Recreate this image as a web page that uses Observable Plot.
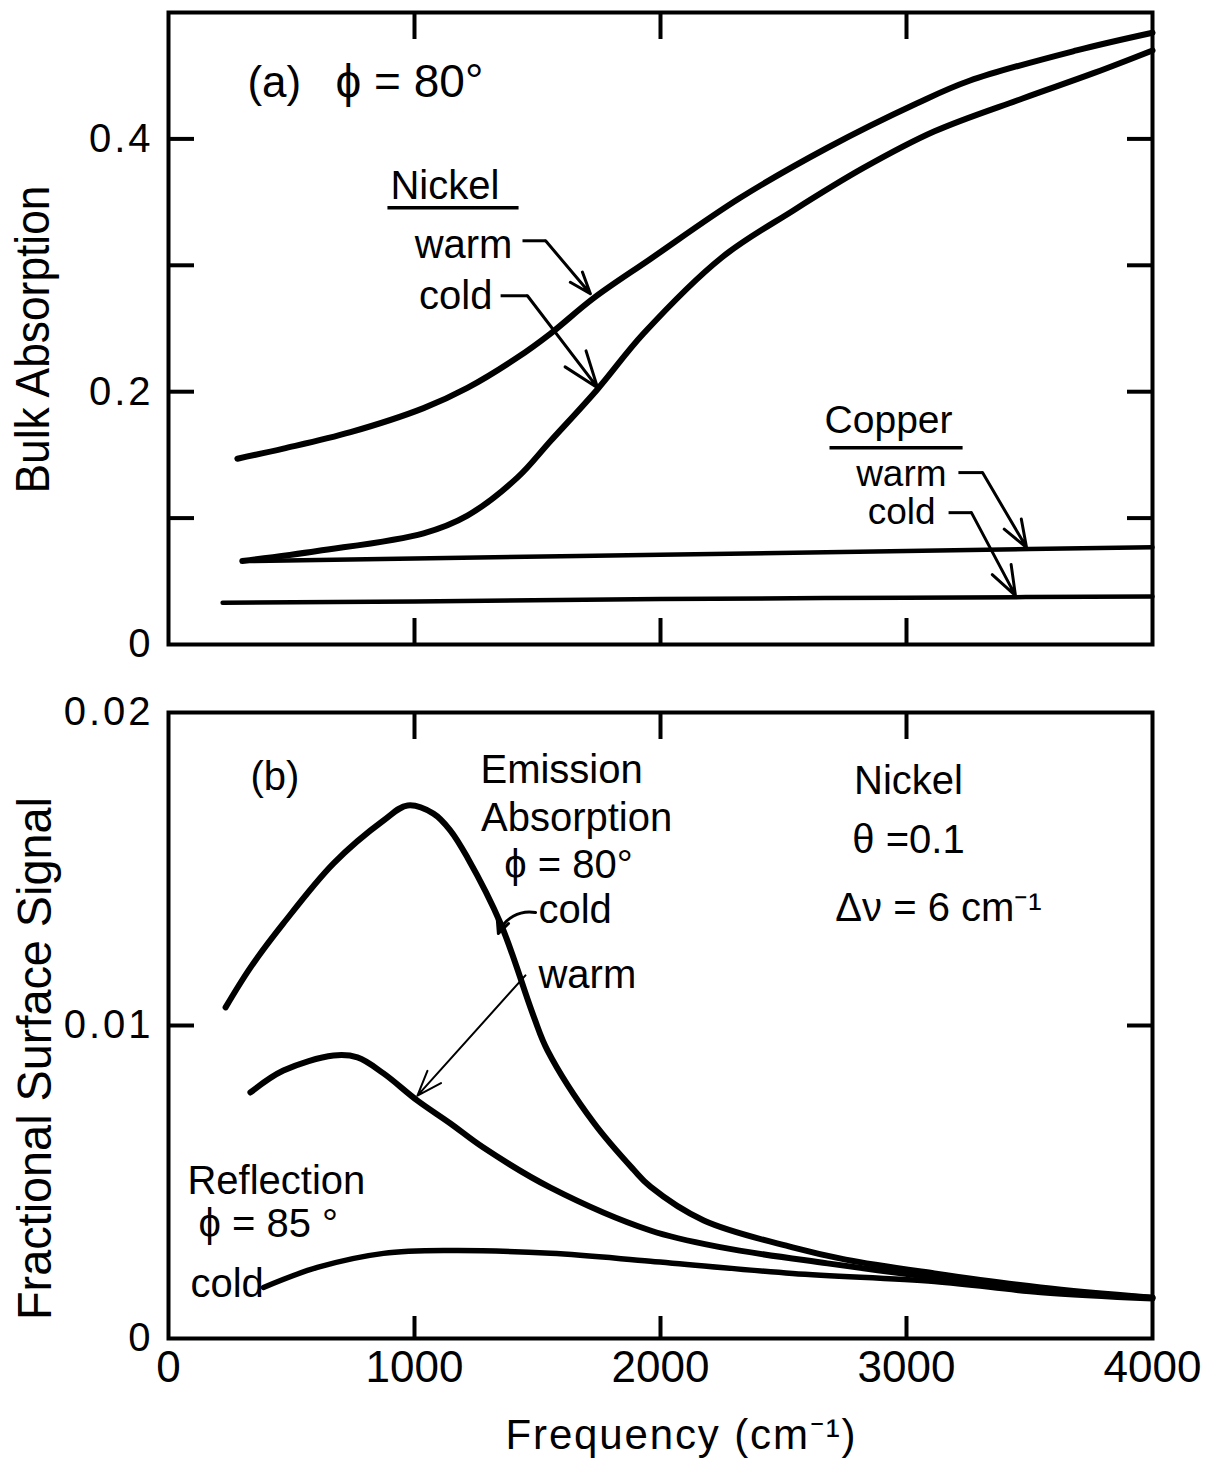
<!DOCTYPE html>
<html>
<head>
<meta charset="utf-8">
<script src="https://cdn.jsdelivr.net/npm/d3@7"></script>
<script src="https://cdn.jsdelivr.net/npm/@observablehq/plot@0.6"></script>
<style>
  body { margin: 0; background: #fff; }
  #chart svg { display: block; }
  g[aria-label="y-axis tick label"] text { letter-spacing: 3px; }
</style>
</head>
<body>
<div id="chart"></div>
<script>
// ---------- Data (frequency in cm^-1, value) ----------
const nickelWarm = [[280,0.147],[467,0.155],[740,0.168],[1037,0.187],[1215,0.203],[1418,0.227],[1553,0.246],[1728,0.274],[1959,0.305],[2321,0.353],[2679,0.393],[3041,0.428],[3256,0.446],[3691,0.470],[4000,0.484]];
const nickelCold = [[300,0.066],[605,0.074],[1037,0.088],[1215,0.102],[1418,0.132],[1553,0.161],[1744,0.202],[1931,0.246],[2248,0.306],[2537,0.343],[2825,0.377],[3114,0.406],[3472,0.432],[3760,0.452],[4000,0.470]];
const copperWarm = [[300,0.066],[1000,0.068],[2000,0.071],[3000,0.074],[4000,0.077]];
const copperCold = [[220,0.033],[1000,0.034],[2000,0.036],[3000,0.037],[4000,0.038]];

const emissionCold = [[232,0.01058],[333,0.01185],[467,0.01326],[671,0.01518],[874,0.01655],[972,0.01703],[1077,0.01677],[1146,0.01623],[1215,0.01537],[1350,0.01326],[1484,0.01030],[1541,0.0092],[1728,0.00690],[1890,0.00540],[1959,0.00485],[2176,0.00377],[2537,0.00291],[2753,0.00252],[3114,0.00208],[3545,0.00163],[4000,0.0013]];
const emissionWarm = [[333,0.00786],[467,0.00856],[671,0.00904],[768,0.00898],[874,0.00847],[1012,0.0076],[1146,0.00687],[1280,0.0061],[1553,0.00482],[1959,0.00345],[2248,0.00291],[2679,0.0024],[3114,0.00195],[3545,0.00153],[4000,0.0013]];
const reflectionCold = [[386,0.00163],[605,0.00227],[874,0.00272],[1146,0.00281],[1553,0.00272],[1959,0.00247],[2537,0.00208],[3114,0.00182],[3545,0.00147],[4000,0.00127]];

// ---------- Axes / ticks ----------
const xDomain = [0, 4000];
const xLabelTicks = [0, 1000, 2000, 3000, 4000];
const xInnerTicks = [1000, 2000, 3000];
const yDomainA = [0, 0.5];
const yLabelTicksA = [0, 0.2, 0.4];
const yInnerTicksA = [0.1, 0.2, 0.3, 0.4];
const yDomainB = [0, 0.02];
const yLabelTicksB = [0, 0.01, 0.02];
const yInnerTicksB = [0.01];

// ---------- Annotations (data coordinates) ----------
const annotA = [
  {t: "(a)", x: 321, y: 0.4332, a: "start", fs: 44},
  {t: "ϕ = 80°", x: 679, y: 0.4332, a: "start", fs: 46},
  {t: "Nickel", x: 902, y: 0.3526, a: "start", fs: 40},
  {t: "warm", x: 1398, y: 0.3059, a: "end", fs: 40},
  {t: "cold", x: 1317, y: 0.2656, a: "end", fs: 40},
  {t: "Copper", x: 2667, y: 0.1676, a: "start", fs: 39},
  {t: "warm", x: 3163, y: 0.1257, a: "end", fs: 37},
  {t: "cold", x: 3118, y: 0.0957, a: "end", fs: 37}
];
const underlinesA = [
  {x1: 890, x2: 1423, y: 0.3455},
  {x1: 2687, x2: 3228, y: 0.1557}
];
const leadersA = [
  {x0: 1439, x1: 1533, y0: 0.3194, x2: 1715, y2: 0.2775},
  {x0: 1350, x1: 1459, y0: 0.2759, x2: 1744, y2: 0.2032},
  {x0: 3211, x1: 3309, y0: 0.136, x2: 3488, y2: 0.0767},
  {x0: 3171, x1: 3264, y0: 0.1043, x2: 3443, y2: 0.0387}
];
const annotB = [
  {t: "(b)", x: 333, y: 0.01751, a: "start"},
  {t: "Emission", x: 1598, y: 0.01776, a: "middle"},
  {t: "Absorption", x: 1659, y: 0.01623, a: "middle"},
  {t: "ϕ = 80°", x: 1626, y: 0.0147, a: "middle"},
  {t: "cold", x: 1504, y: 0.01326, a: "start"},
  {t: "warm", x: 1504, y: 0.01121, a: "start"},
  {t: "Nickel", x: 3008, y: 0.01741, a: "middle"},
  {t: "θ =0.1", x: 3008, y: 0.0155, a: "middle"},
  {t: "Δν = 6 cm⁻¹", x: 3130, y: 0.01335, a: "middle"},
  {t: "Reflection", x: 77, y: 0.00463, a: "start"},
  {t: "ϕ = 85 °", x: 122, y: 0.00323, a: "start"},
  {t: "cold", x: 89, y: 0.00131, a: "start"}
];
const arrowsB = [
  {x1: 1492, y1: 0.01361, x2: 1341, y2: 0.01294, bend: -40, sw: 3},
  {x1: 1451, y1: 0.0116, x2: 1012, y2: 0.00776, bend: 0, sw: 2}
];

const FONT = "'Liberation Sans', Arial, Helvetica, sans-serif";
const fx = d => d[0], fy = d => d[1];
const plain = d => String(d);

function frameAxes(yLabelTicks, yInner) {
  return [
    Plot.axisY({anchor: "left", ticks: yLabelTicks, tickSize: 0, tickPadding: 15, fontSize: 40, tickFormat: plain, label: null}),
    Plot.axisY({anchor: "left", ticks: yInner, tickSize: -26, strokeWidth: 4, tickFormat: () => "", label: null}),
    Plot.axisY({anchor: "right", ticks: yInner, tickSize: -26, strokeWidth: 4, tickFormat: () => "", label: null}),
    Plot.axisX({anchor: "top", ticks: xInnerTicks, tickSize: -26, strokeWidth: 4, tickFormat: () => "", label: null}),
    Plot.frame({strokeWidth: 4})
  ];
}

// ---------- Panel (a) ----------
const pa = Plot.plot({
  width: 1206, height: 660,
  marginLeft: 168, marginRight: 54, marginTop: 12, marginBottom: 16,
  x: {domain: xDomain},
  y: {domain: yDomainA},
  style: {fontFamily: FONT, color: "#000", background: "#fff", overflow: "visible"},
  marks: [
    ...frameAxes(yLabelTicksA, yInnerTicksA),
    Plot.axisX({anchor: "bottom", ticks: xInnerTicks, tickSize: -26, strokeWidth: 4, tickFormat: () => "", label: null}),
    Plot.line(nickelWarm, {x: fx, y: fy, stroke: "#000", strokeWidth: 6, curve: "catmull-rom", strokeLinecap: "round"}),
    Plot.line(nickelCold, {x: fx, y: fy, stroke: "#000", strokeWidth: 6, curve: "catmull-rom", strokeLinecap: "round"}),
    Plot.line(copperWarm, {x: fx, y: fy, stroke: "#000", strokeWidth: 4.5, curve: "monotone-x", strokeLinecap: "round"}),
    Plot.line(copperCold, {x: fx, y: fy, stroke: "#000", strokeWidth: 4.5, curve: "monotone-x", strokeLinecap: "round"}),
    Plot.text(annotA.filter(d => d.a === "start"), {x: "x", y: "y", text: "t", fontSize: "fs", textAnchor: "start", lineAnchor: "bottom", fill: "#000"}),
    Plot.text(annotA.filter(d => d.a === "end"), {x: "x", y: "y", text: "t", fontSize: "fs", textAnchor: "end", lineAnchor: "bottom", fill: "#000"}),
    Plot.link(underlinesA, {x1: "x1", x2: "x2", y1: "y", y2: "y", stroke: "#000", strokeWidth: 3.5}),
    Plot.link(leadersA, {x1: "x0", x2: "x1", y1: "y0", y2: "y0", stroke: "#000", strokeWidth: 3}),
    Plot.arrow(leadersA, {x1: "x1", y1: "y0", x2: "x2", y2: "y2", stroke: "#000", strokeWidth: 3, headLength: 20, headAngle: 40}),
    Plot.text(["Bulk Absorption"], {frameAnchor: "left", rotate: -90, dx: -120, dy: 11, textAnchor: "middle", lineAnchor: "bottom", fontSize: 48, fill: "#000"})
  ]
});

// ---------- Panel (b) ----------
const pb = Plot.plot({
  width: 1206, height: 800,
  marginLeft: 168, marginRight: 54, marginTop: 52, marginBottom: 122,
  x: {domain: xDomain},
  y: {domain: yDomainB},
  style: {fontFamily: FONT, color: "#000", background: "#fff", overflow: "visible"},
  marks: [
    ...frameAxes(yLabelTicksB, yInnerTicksB),
    Plot.axisX({anchor: "bottom", ticks: xInnerTicks, tickSize: -22, strokeWidth: 4, tickFormat: () => "", label: null}),
    Plot.axisX({anchor: "bottom", ticks: xLabelTicks, tickSize: 0, tickPadding: 12, fontSize: 44, tickFormat: plain, label: null}),
    Plot.line(emissionCold, {x: fx, y: fy, stroke: "#000", strokeWidth: 6, curve: "catmull-rom", strokeLinecap: "round"}),
    Plot.line(emissionWarm, {x: fx, y: fy, stroke: "#000", strokeWidth: 6, curve: "catmull-rom", strokeLinecap: "round"}),
    Plot.line(reflectionCold, {x: fx, y: fy, stroke: "#000", strokeWidth: 5.5, curve: "catmull-rom", strokeLinecap: "round"}),
    Plot.text(annotB.filter(d => d.a === "start"), {x: "x", y: "y", text: "t", fontSize: 40, textAnchor: "start", lineAnchor: "bottom", fill: "#000"}),
    Plot.text(annotB.filter(d => d.a === "middle"), {x: "x", y: "y", text: "t", fontSize: 40, textAnchor: "middle", lineAnchor: "bottom", fill: "#000"}),
    Plot.arrow(arrowsB.filter(d => d.bend === 0), {x1: "x1", y1: "y1", x2: "x2", y2: "y2", stroke: "#000", strokeWidth: 2, headLength: 20, headAngle: 40}),
    Plot.arrow(arrowsB.filter(d => d.bend !== 0), {x1: "x1", y1: "y1", x2: "x2", y2: "y2", bend: -40, stroke: "#000", strokeWidth: 3, headLength: 16, headAngle: 50}),
    Plot.text(["Frequency (cm⁻¹)"], {frameAnchor: "bottom", dx: 20, dy: 110, textAnchor: "middle", lineAnchor: "bottom", fontSize: 42, fill: "#000"}),
    Plot.text(["Fractional Surface Signal"], {frameAnchor: "left", rotate: -90, dx: -118, dy: 33, textAnchor: "middle", lineAnchor: "bottom", fontSize: 48, fill: "#000"})
  ]
});

function fitText(svg, content, len, adjust) {
  d3.select(svg).selectAll("text")
    .filter(function () { return this.textContent === content; })
    .attr("textLength", len).attr("lengthAdjust", adjust);
}
fitText(pa, "Bulk Absorption", 308, "spacingAndGlyphs");
fitText(pb, "Fractional Surface Signal", 523, "spacingAndGlyphs");
fitText(pb, "Frequency (cm⁻¹)", 350, "spacing");

document.getElementById("chart").append(pa, pb);
</script>
</body>
</html>
